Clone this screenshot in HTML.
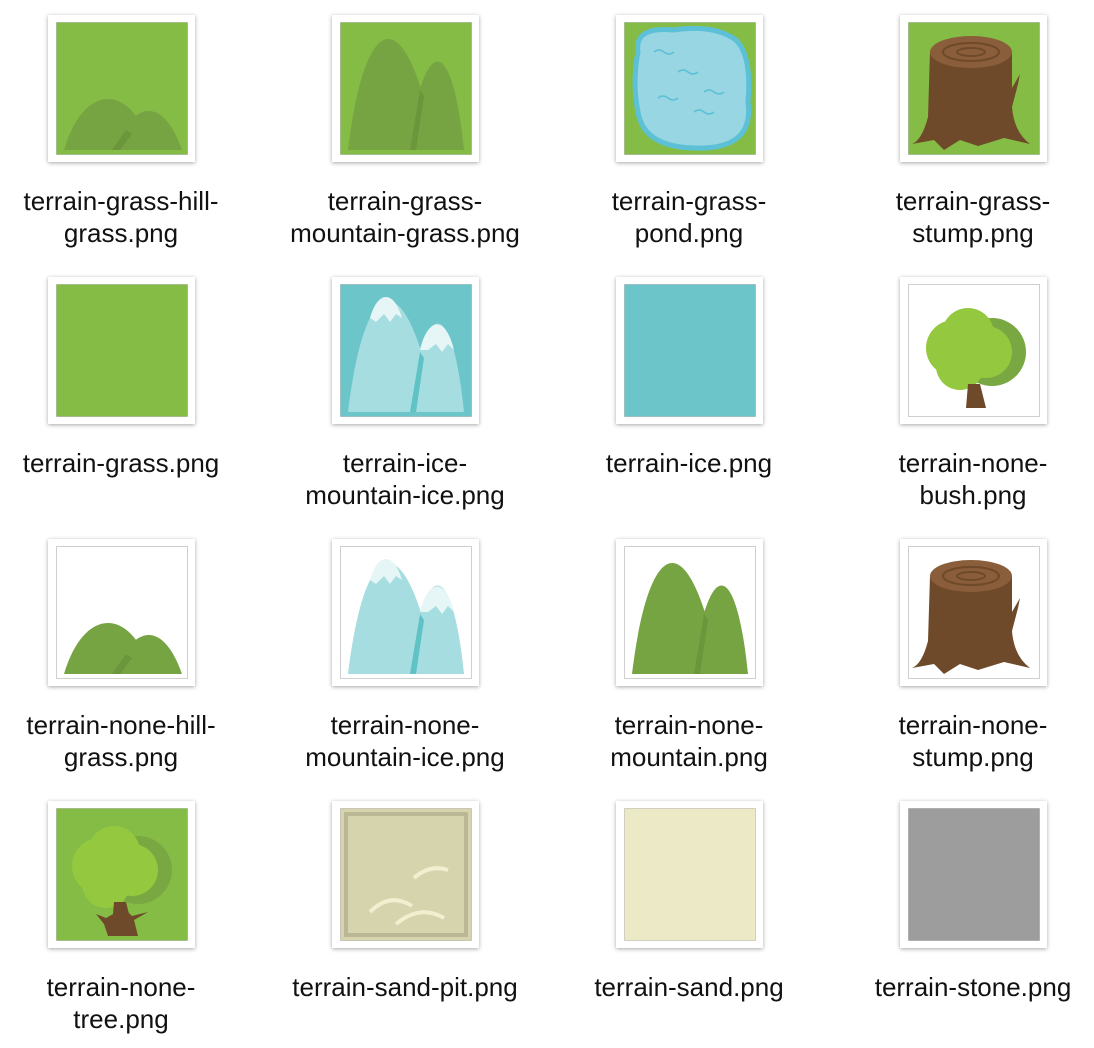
<!DOCTYPE html>
<html><head><meta charset="utf-8"><style>
body{margin:0;background:#fff;width:1094px;height:1048px;position:relative;overflow:hidden;font-family:"Liberation Sans",Arial,sans-serif}
.tile{position:absolute;width:147px;height:147px;background:#fff;box-shadow:0 1px 4px rgba(0,0,0,.35)}
.tile svg{position:absolute;left:8px;top:7px;width:132px;height:133px}
.lbl{position:absolute;width:300px;text-align:center;font-size:26px;line-height:32px;color:#111;white-space:nowrap}
</style></head><body>
<div id="grid"></div>
<svg width="0" height="0" style="position:absolute">
<defs>
<g id="hill"><path d="M8 128 C28 60, 76 60, 96 128Z M58 128 C78 76, 108 76, 126 128Z" fill="#77a443"/><path d="M56 128 L70 108 L76 112 L64 128Z" fill="#6b963b"/></g>
<g id="mtn"><path d="M8 128 C26 -20, 68 -20, 96 128Z M68 128 C84 10, 112 10, 124 128Z" fill="#77a443"/><path d="M70 128 L80 68 L84 74 L76 128Z" fill="#6b963b"/></g>
<g id="mtnice"><path d="M8 128 C26 -20, 68 -20, 96 128Z M68 128 C84 10, 112 10, 124 128Z" fill="#a6dde0"/><path d="M30 34 C38 6, 54 6, 62 34 L56 30 L50 38 L44 30 L36 38Z M80 66 C88 32, 106 32, 114 66 L108 60 L102 68 L96 60 L88 66Z" fill="#e6f5f5"/><path d="M70 128 L80 68 L84 74 L76 128Z" fill="#5fc2c4"/></g>
<g id="stump"><path d="M22 30 L20 95 Q14 118 4 122 L26 118 L36 128 L52 118 L70 124 L96 116 L122 122 Q106 110 104 85 L110 62 L112 52 L104 66 L104 30Z" fill="#6e4a2a"/><ellipse cx="63" cy="30" rx="41" ry="16" fill="#8a5e3a"/><ellipse cx="63" cy="30" rx="28" ry="9" fill="none" stroke="#6e4a2a" stroke-width="2"/><ellipse cx="63" cy="30" rx="14" ry="4" fill="none" stroke="#6e4a2a" stroke-width="2"/></g>
<g id="bush"><circle cx="84" cy="68" r="34" fill="#79a843"/><circle cx="46" cy="64" r="28" fill="#94c83f"/><circle cx="60" cy="50" r="26" fill="#94c83f"/><circle cx="78" cy="68" r="26" fill="#94c83f"/><circle cx="52" cy="82" r="24" fill="#94c83f"/><path d="M60 100 L58 124 L78 124 L72 100Z" fill="#6e4a2a"/></g>
</defs></svg>
<script>
const names=["terrain-grass-hill-|grass.png","terrain-grass-|mountain-grass.png","terrain-grass-|pond.png","terrain-grass-|stump.png","terrain-grass.png","terrain-ice-|mountain-ice.png","terrain-ice.png","terrain-none-|bush.png","terrain-none-hill-|grass.png","terrain-none-|mountain-ice.png","terrain-none-|mountain.png","terrain-none-|stump.png","terrain-none-|tree.png","terrain-sand-pit.png","terrain-sand.png","terrain-stone.png"];
const G='#84bc45',W='#fff';
const bgs=[G,G,G,G,G,'#6cc5c8','#6cc5c8',W,W,W,W,W,G,'#d6d4ad','#ece9c6','#9d9d9d'];
const fg=['<use href="#hill"/>','<use href="#mtn"/>',
'<path d="M14 30 Q10 4 50 8 Q90 2 112 18 Q128 34 124 80 Q130 124 80 126 Q20 128 14 90 Q8 60 14 30Z" fill="#98d6e3" stroke="#5cc0d6" stroke-width="5"/><path d="M30 30q5-4 10 0t10 0M54 50q5-4 10 0t10 0M34 76q5-4 10 0t10 0M70 90q5-4 10 0t10 0M80 70q5-4 10 0t10 0" stroke="#5cc0d6" stroke-width="1.5" fill="none"/>',
'<use href="#stump"/>','','<use href="#mtnice"/>','','<use href="#bush"/>','<use href="#hill"/>','<use href="#mtnice"/>','<use href="#mtn"/>','<use href="#stump"/>',
'<g transform="translate(-2,-6)"><use href="#bush"/></g><path d="M50 110 L40 106 L48 116 L52 128 L82 128 L78 112 L92 104 L76 108 L68 100Z" fill="#6e4a2a"/>',
'<rect x="6" y="6" width="120" height="121" fill="#d6d4ad" stroke="#b9b795" stroke-width="4"/><path d="M30 104 Q50 84 72 98 M56 116 Q80 96 104 110 M74 70 Q90 56 108 62" stroke="#f2efd0" stroke-width="4" fill="none"/>',
'',''];
const grid=document.getElementById('grid');
names.forEach((n,i)=>{
 const c=i%4,r=Math.floor(i/4);
 const x=48+c*284,y=15+r*262;
 const t=document.createElement('div');
 t.className='tile';t.style.left=x+'px';t.style.top=y+'px';
 
 
 const border=bgs[i]===W?'#cfcfcf':'rgba(0,0,0,0.15)';
 t.innerHTML='<svg viewBox="0 0 132 133"><rect x="0.5" y="0.5" width="131" height="132" fill="'+bgs[i]+'" stroke="'+border+'"/>'+fg[i]+'</svg>';
 grid.appendChild(t);
 const l=document.createElement('div');
 l.className='lbl';l.style.left=(x+73-150)+'px';l.style.top=(y+170)+'px';
 
 
 l.innerHTML=n.split('|').join('<br>');
 grid.appendChild(l);
});
</script>
</body></html>
